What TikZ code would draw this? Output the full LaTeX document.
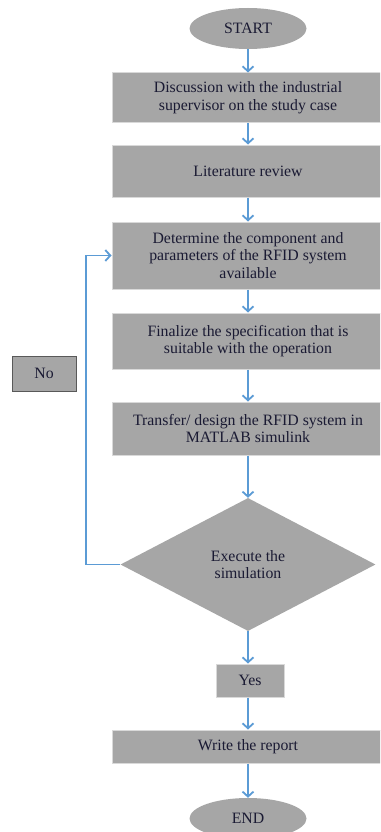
\documentclass[tikz,border=0pt]{standalone}
\usepackage{fontspec}
\setmainfont{Liberation Serif}
\usetikzlibrary{shapes.geometric,arrows.meta}
\definecolor{boxfill}{HTML}{A6A6A6}
\definecolor{boxedge}{HTML}{D9D9D9}
\definecolor{noedge}{HTML}{595959}
\definecolor{arrowblue}{HTML}{5B9BD5}
\definecolor{txt}{HTML}{1A1A33}
\tikzset{
  base/.style={fill=boxfill, text=txt, font=\fontsize{15.8}{17.6}\selectfont, align=center, inner sep=0pt},
  proc/.style={base, rectangle, draw=boxedge, line width=1pt, minimum width=272, minimum height=#1},
  term/.style={base, ellipse, draw=none, minimum width=117, minimum height=41},
  dec/.style={base, diamond, draw=none, minimum width=255, minimum height=133},
  lbl/.style={base, rectangle, draw=noedge, line width=1pt, minimum width=64, minimum height=35},
  yesbox/.style={base, rectangle, draw=boxedge, line width=1pt, minimum width=68, minimum height=33},
  arr/.style={draw=arrowblue, line width=1.8pt, -{Straight Barb[length=5pt,width=11pt,line width=1.8pt]}}
}
\begin{document}
\begin{tikzpicture}[x=1pt,y=-1pt]
\clip (0,0) rectangle (380,832);
\fill[white] (0,0) rectangle (380,832);
\node[term] (start) at (248,28.5) {START};
\node[proc=50] (b1) at (248,98) {Discussion with the industrial\\supervisor on the study case};
\node[proc=52] (b2) at (248,171) {Literature review};
\node[proc=67] (b3) at (248,255.5) {Determine the component and\\parameters of the RFID system\\available};
\node[proc=56] (b4) at (248,341) {Finalize the specification that is\\suitable with the operation};
\node[proc=53] (b5) at (248,428.5) {Transfer/ design the RFID system in\\MATLAB simulink};
\node[dec] (d) at (248,564.5) {Execute the\\simulation};
\node[yesbox] (yes) at (250,680.5) {Yes};
\node[proc=33] (b6) at (248,746.5) {Write the report};
\node[term] (end) at (248,818.5) {END};
\node[lbl] (no) at (44,373.5) {No};
\draw[arr] (start) -- (b1);
\draw[arr] (b1) -- (b2);
\draw[arr] (b2) -- (b3);
\draw[arr] (b3) -- (b4);
\draw[arr] (b4) -- (b5);
\draw[arr] (b5) -- (d);
\draw[arr] (d) -- (d.south |- yes.north);
\draw[arr] (d.south |- yes.south) -- (b6);
\draw[arr] (b6) -- (end);
\draw[arr] (d.west) -- ++(-34,0) |- (b3.west);
\end{tikzpicture}
\end{document}
